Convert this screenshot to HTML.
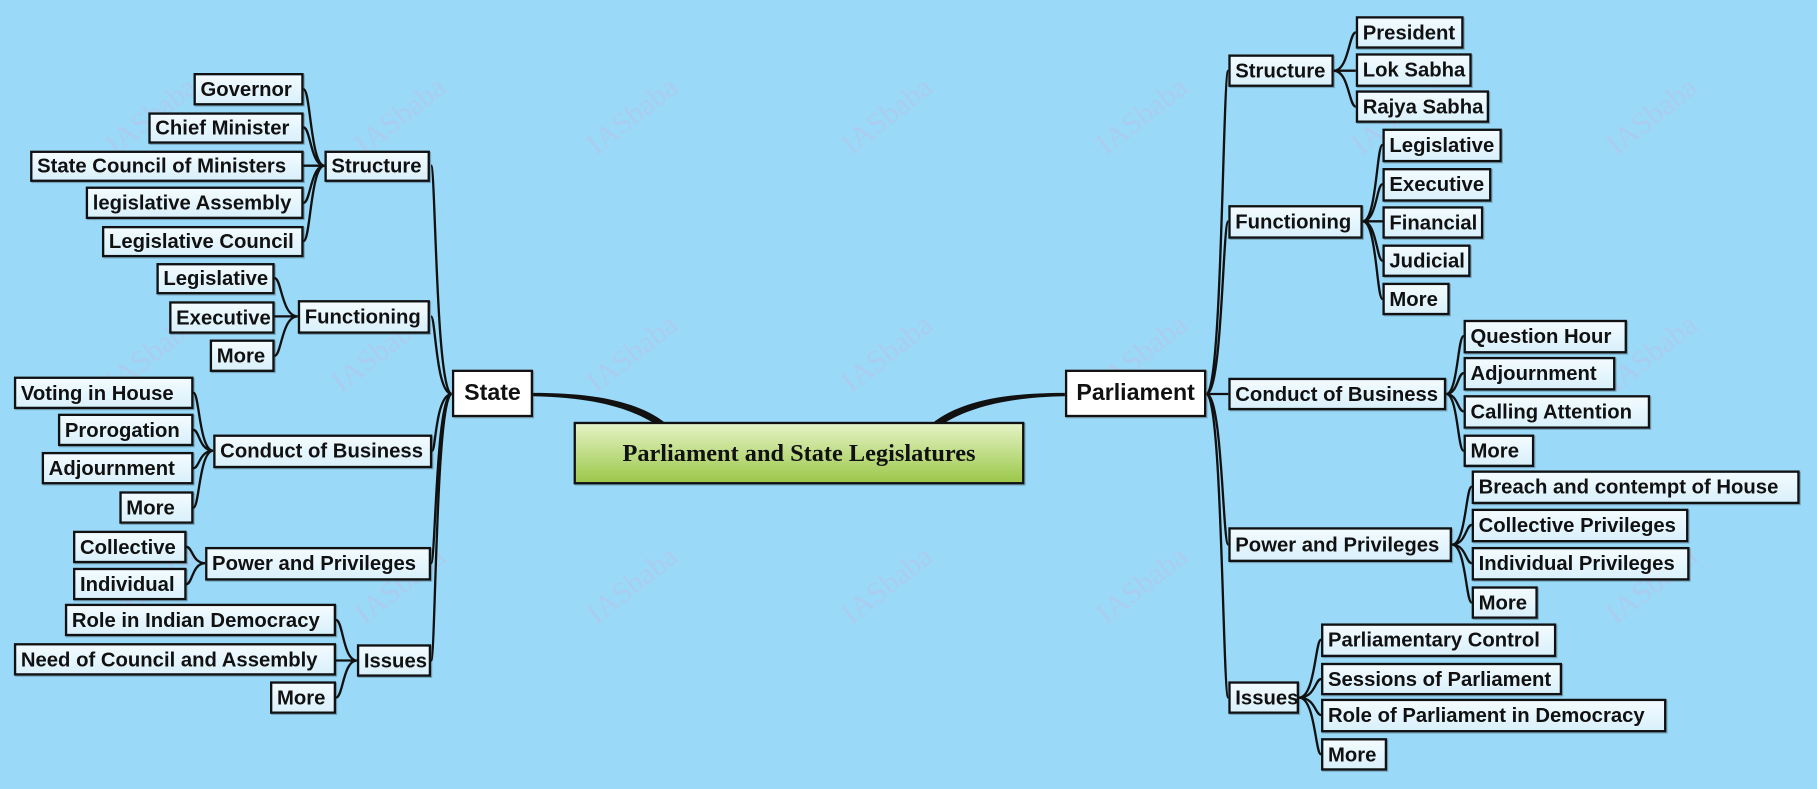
<!DOCTYPE html>
<html><head><meta charset="utf-8"><style>
html,body{margin:0;padding:0;width:1817px;height:789px;overflow:hidden;background:#9bd9f8}
#w{position:absolute;left:0;top:0;width:1568px;height:681px;transform:scale(1.1588);transform-origin:0 0;background:#9bd9f8}
.n{position:absolute;box-sizing:border-box;border:2px solid #111;background:linear-gradient(#f3fbff,#d9f0fb);display:flex;align-items:center;justify-content:flex-start;padding-left:4px;font-family:"Liberation Sans",sans-serif;font-weight:bold;font-size:17.5px;color:#111;white-space:nowrap;box-shadow:1px 1px 0 rgba(0,0,0,.25)}
.t{background:#fff;font-size:20px;justify-content:center;padding-left:0}
.wm{position:absolute;font-family:"Liberation Serif",serif;font-size:26px;color:rgba(240,150,200,.18);transform:rotate(-38deg)}
svg{position:absolute;left:0;top:0}
</style></head><body><div id="w">
<div class="wm" style="left:85px;top:85px">IASbaba</div><div class="wm" style="left:300px;top:85px">IASbaba</div><div class="wm" style="left:500px;top:85px">IASbaba</div><div class="wm" style="left:720px;top:85px">IASbaba</div><div class="wm" style="left:940px;top:85px">IASbaba</div><div class="wm" style="left:1160px;top:85px">IASbaba</div><div class="wm" style="left:1380px;top:85px">IASbaba</div>
<div class="wm" style="left:85px;top:290px">IASbaba</div><div class="wm" style="left:280px;top:290px">IASbaba</div><div class="wm" style="left:500px;top:290px">IASbaba</div><div class="wm" style="left:720px;top:290px">IASbaba</div><div class="wm" style="left:940px;top:290px">IASbaba</div><div class="wm" style="left:1380px;top:290px">IASbaba</div>
<div class="wm" style="left:85px;top:490px">IASbaba</div><div class="wm" style="left:300px;top:490px">IASbaba</div><div class="wm" style="left:500px;top:490px">IASbaba</div><div class="wm" style="left:720px;top:490px">IASbaba</div><div class="wm" style="left:940px;top:490px">IASbaba</div><div class="wm" style="left:1380px;top:490px">IASbaba</div>
<svg width="1568" height="681" fill="none" stroke="#111" stroke-width="2">
<path d="M390 340C376 340 376 143 372 143M390 340C376 340 376 273 372 273M390 340C376 340 376 389 373 389M390 340C376 340 376 486 372 486M390 340C376 340 376 570 372 570"/>
<path d="M280 143C268 143 268 77 262 77M280 143C268 143 268 110 262 110M280 143H262M280 143C268 143 268 175 262 175M280 143C268 143 268 208 262 208"/>
<path d="M257 273C243 273 243 240 237 240M257 273H237M257 273C243 273 243 307 237 307"/>
<path d="M184 389C172 389 172 339 167 339M184 389C172 389 172 371 167 371M184 389C172 389 172 404 167 404M184 389C172 389 172 438 167 438"/>
<path d="M177 486C166 486 166 472 161 472M177 486C166 486 166 504 161 504"/>
<path d="M308 570C296 570 296 535 290 535M308 570H290M308 570C296 570 296 602 290 602"/>
<path d="M1041 340C1055 340 1055 61 1060 61M1041 340C1055 340 1055 191 1060 191M1041 340H1060M1041 340C1055 340 1055 470 1060 470M1041 340C1055 340 1055 602 1060 602"/>
<path d="M1151 61C1164 61 1164 28 1170 28M1151 61H1170M1151 61C1164 61 1164 92 1170 92"/>
<path d="M1176 191C1188 191 1188 125 1193 125M1176 191C1188 191 1188 159 1193 159M1176 191H1193M1176 191C1188 191 1188 225 1193 225M1176 191C1188 191 1188 258 1193 258"/>
<path d="M1248 340C1258 340 1258 290 1263 290M1248 340C1258 340 1258 322 1263 322M1248 340C1258 340 1258 355 1263 355M1248 340C1258 340 1258 389 1263 389"/>
<path d="M1253 470C1265 470 1265 420 1270 420M1253 470C1265 470 1265 453 1270 453M1253 470C1265 470 1265 486 1270 486M1253 470C1265 470 1265 520 1270 520"/>
<path d="M1121 602C1135 602 1135 552 1140 552M1121 602C1135 602 1135 586 1140 586M1121 602C1135 602 1135 617 1140 617M1121 602C1135 602 1135 651 1140 651"/>
<path fill="#111" stroke="none" d="M460 339C515 339 550 347 573 364L564 365C542 352 512 343 460 342Z"/>
<path fill="#111" stroke="none" d="M919 339C864 339 829 347 806 364L815 365C837 352 867 343 919 342Z"/>
</svg>
<div class="n t" style="left:495px;top:364px;width:389px;height:54px;background:linear-gradient(#e4f2c4,#9cc84a);font-family:'Liberation Serif',serif;font-size:21px">Parliament and State Legislatures</div>
<div class="n t" style="left:390px;top:319px;width:70px;height:41px">State</div>
<div class="n t" style="left:919px;top:319px;width:122px;height:41px">Parliament</div>

<div class="n" style="left:167px;top:63px;width:95px;height:28px">Governor</div>
<div class="n" style="left:128px;top:97px;width:134px;height:27px">Chief Minister</div>
<div class="n" style="left:26px;top:130px;width:236px;height:27px">State Council of Ministers</div>
<div class="n" style="left:74px;top:161px;width:188px;height:28px">legislative Assembly</div>
<div class="n" style="left:88px;top:195px;width:174px;height:27px">Legislative Council</div>
<div class="n" style="left:280px;top:130px;width:91px;height:27px">Structure</div>
<div class="n" style="left:135px;top:227px;width:102px;height:27px">Legislative</div>
<div class="n" style="left:146px;top:260px;width:91px;height:28px">Executive</div>
<div class="n" style="left:181px;top:293px;width:56px;height:28px">More</div>
<div class="n" style="left:257px;top:259px;width:114px;height:29px">Functioning</div>
<div class="n" style="left:12px;top:325px;width:155px;height:28px">Voting in House</div>
<div class="n" style="left:50px;top:357px;width:117px;height:28px">Prorogation</div>
<div class="n" style="left:36px;top:390px;width:131px;height:28px">Adjournment</div>
<div class="n" style="left:103px;top:424px;width:64px;height:28px">More</div>
<div class="n" style="left:184px;top:375px;width:189px;height:29px">Conduct of Business</div>
<div class="n" style="left:63px;top:458px;width:98px;height:28px">Collective</div>
<div class="n" style="left:63px;top:490px;width:98px;height:28px">Individual</div>
<div class="n" style="left:177px;top:472px;width:195px;height:29px">Power and Privileges</div>
<div class="n" style="left:56px;top:521px;width:234px;height:28px">Role in Indian Democracy</div>
<div class="n" style="left:12px;top:555px;width:278px;height:28px">Need of Council and Assembly</div>
<div class="n" style="left:233px;top:588px;width:57px;height:28px">More</div>
<div class="n" style="left:308px;top:556px;width:64px;height:28px">Issues</div>

<div class="n" style="left:1060px;top:47px;width:91px;height:28px">Structure</div>
<div class="n" style="left:1170px;top:14px;width:93px;height:28px">President</div>
<div class="n" style="left:1170px;top:46px;width:100px;height:29px">Lok Sabha</div>
<div class="n" style="left:1170px;top:78px;width:115px;height:28px">Rajya Sabha</div>
<div class="n" style="left:1193px;top:111px;width:103px;height:29px">Legislative</div>
<div class="n" style="left:1060px;top:177px;width:116px;height:29px">Functioning</div>
<div class="n" style="left:1193px;top:145px;width:94px;height:29px">Executive</div>
<div class="n" style="left:1193px;top:178px;width:87px;height:28px">Financial</div>
<div class="n" style="left:1193px;top:211px;width:76px;height:28px">Judicial</div>
<div class="n" style="left:1193px;top:244px;width:58px;height:28px">More</div>
<div class="n" style="left:1060px;top:326px;width:188px;height:28px">Conduct of Business</div>
<div class="n" style="left:1263px;top:276px;width:141px;height:29px">Question Hour</div>
<div class="n" style="left:1263px;top:308px;width:131px;height:29px">Adjournment</div>
<div class="n" style="left:1263px;top:341px;width:161px;height:29px">Calling Attention</div>
<div class="n" style="left:1263px;top:375px;width:61px;height:28px">More</div>
<div class="n" style="left:1060px;top:455px;width:193px;height:30px">Power and Privileges</div>
<div class="n" style="left:1270px;top:406px;width:283px;height:29px">Breach and contempt of House</div>
<div class="n" style="left:1270px;top:439px;width:187px;height:29px">Collective Privileges</div>
<div class="n" style="left:1270px;top:472px;width:188px;height:29px">Individual Privileges</div>
<div class="n" style="left:1270px;top:506px;width:57px;height:28px">More</div>
<div class="n" style="left:1060px;top:588px;width:61px;height:28px">Issues</div>
<div class="n" style="left:1140px;top:538px;width:203px;height:29px">Parliamentary Control</div>
<div class="n" style="left:1140px;top:572px;width:208px;height:28px">Sessions of Parliament</div>
<div class="n" style="left:1140px;top:603px;width:298px;height:29px">Role of Parliament in Democracy</div>
<div class="n" style="left:1140px;top:637px;width:57px;height:28px">More</div>
</div></body></html>
